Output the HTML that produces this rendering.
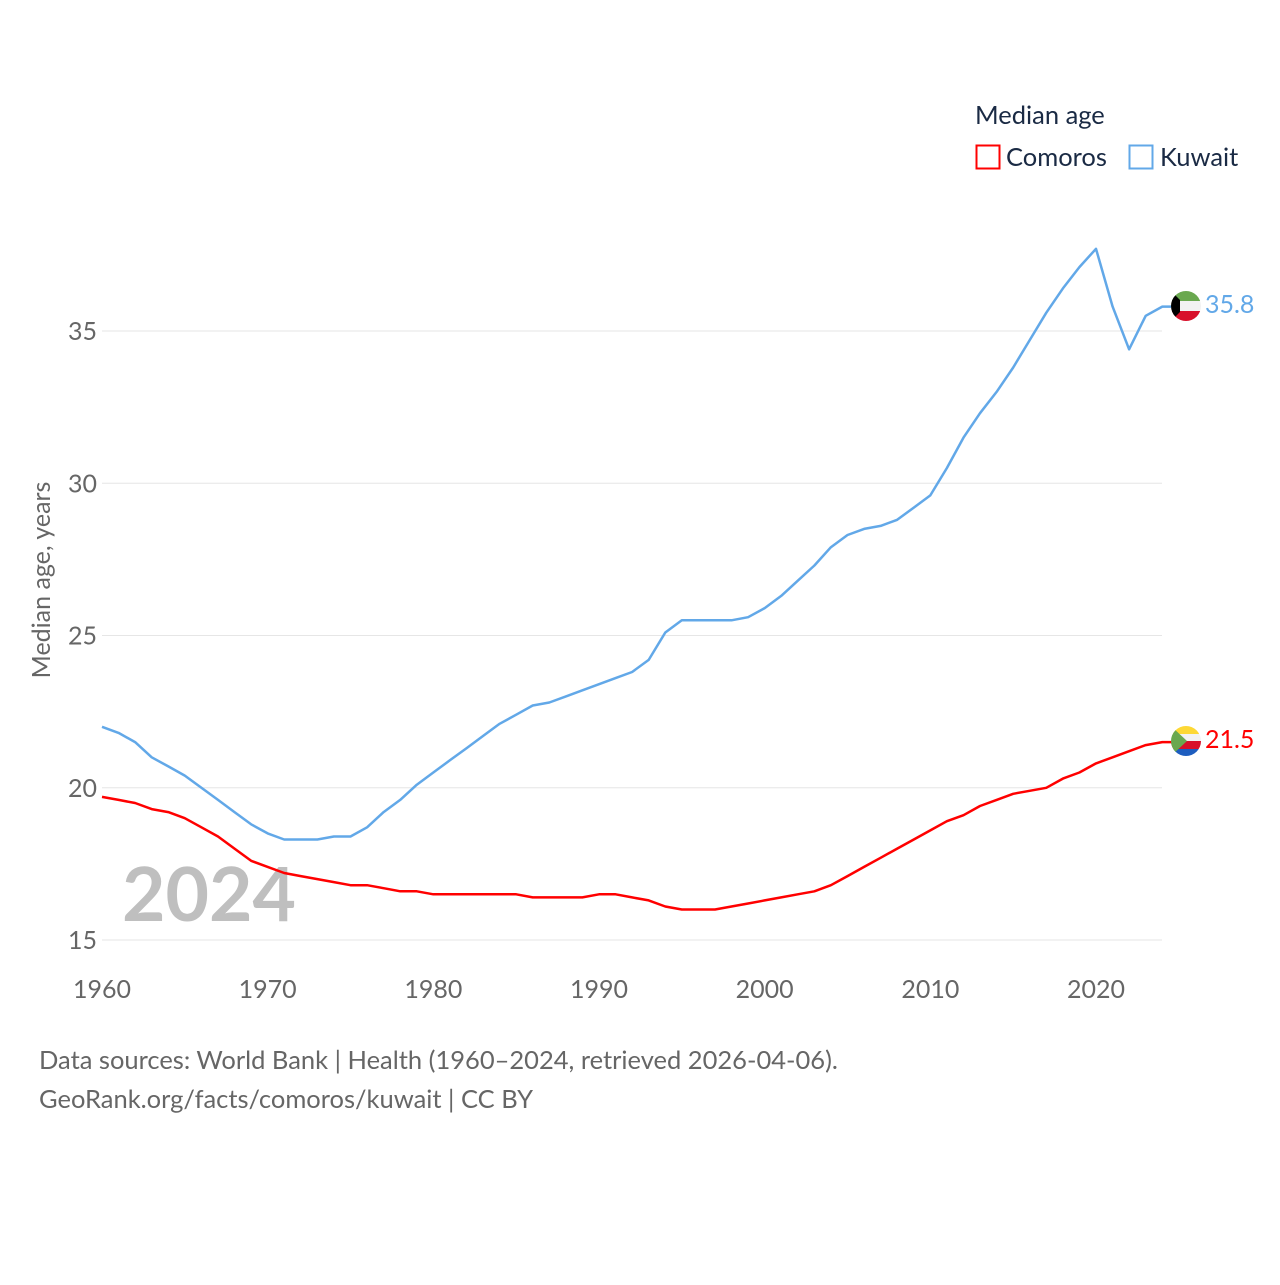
<!DOCTYPE html>
<html><head><meta charset="utf-8"><style>
body{margin:0;background:#fff;font-family:"Liberation Sans",sans-serif}
svg text{font-family:"Lato","Liberation Sans",sans-serif}
</style></head><body>
<svg id="chart" width="1280" height="1280" viewBox="0 0 1280 1280" xmlns="http://www.w3.org/2000/svg">
<rect width="1280" height="1280" fill="#fff"/>
<g id="grid"></g>
<g id="yticks"></g>
<g id="xticks"></g>
<text x="122" y="921" font-size="75" font-weight="bold" fill="#bfbfbf">2024</text>
<g id="lines"></g>
<text transform="translate(50,580) rotate(-90)" text-anchor="middle" font-size="25" fill="#666">Median age, years</text>
<text x="975" y="124" font-size="25.5" fill="#1a2a44">Median age</text>
<g><rect x="976.5" y="145.5" width="23" height="23" fill="none" stroke="#ff0000" stroke-width="2"/><text x="1006" y="166" font-size="25.5" fill="#1a2a44">Comoros</text></g>
<g><rect x="1129.5" y="145.5" width="23" height="23" fill="none" stroke="#62a8e8" stroke-width="2"/><text x="1160" y="166" font-size="25.5" fill="#1a2a44">Kuwait</text></g>
<text x="39" y="1069" font-size="25.5" fill="#666">Data sources: World Bank | Health (1960–2024, retrieved 2026-04-06).</text>
<text x="39" y="1108" font-size="25.5" fill="#666">GeoRank.org/facts/comoros/kuwait | CC BY</text>
<defs><clipPath id="ck"><circle cx="1186" cy="306" r="15"/></clipPath><clipPath id="cc"><circle cx="1186" cy="741" r="15"/></clipPath></defs>
<g clip-path="url(#ck)">
<rect x="1171" y="291" width="30" height="10" fill="#6aa84f"/><rect x="1171" y="301" width="30" height="10" fill="#f2f2f2"/><rect x="1171" y="311" width="30" height="10" fill="#d8102a"/><polygon points="1171,291 1180,300 1180,312 1171,321" fill="#000"/></g>
<g clip-path="url(#cc)">
<rect x="1171" y="726" width="30" height="8" fill="#fdd835"/><rect x="1171" y="734" width="30" height="7" fill="#f2f2f2"/><rect x="1171" y="741" width="30" height="8" fill="#d8102a"/><rect x="1171" y="749" width="30" height="8" fill="#1d5dbf"/><polygon points="1171,726 1187,741 1171,756" fill="#6aa84f"/></g>
<text x="1205" y="313" font-size="25" fill="#62a8e8">35.8</text>
<text x="1205" y="748" font-size="25" fill="#ff0000">21.5</text>
</svg>
<script>
const years=[];for(let y=1960;y<=2024;y++)years.push(y);
const yTickValues=[15,20,25,30,35];
const xTickValues=[1960,1970,1980,1990,2000,2010,2020];
const kuwait=[22.0,21.8,21.5,21.0,20.7,20.4,20.0,19.6,19.2,18.8,18.5,18.3,18.3,18.3,18.4,18.4,18.7,19.2,19.6,20.1,20.5,20.9,21.3,21.7,22.1,22.4,22.7,22.8,23.0,23.2,23.4,23.6,23.8,24.2,25.1,25.5,25.5,25.5,25.5,25.6,25.9,26.3,26.8,27.3,27.9,28.3,28.5,28.6,28.8,29.2,29.6,30.5,31.5,32.3,33.0,33.8,34.7,35.6,36.4,37.1,37.7,35.8,34.4,35.5,35.8];
const comoros=[19.7,19.6,19.5,19.3,19.2,19.0,18.7,18.4,18.0,17.6,17.4,17.2,17.1,17.0,16.9,16.8,16.8,16.7,16.6,16.6,16.5,16.5,16.5,16.5,16.5,16.5,16.4,16.4,16.4,16.4,16.5,16.5,16.4,16.3,16.1,16.0,16.0,16.0,16.1,16.2,16.3,16.4,16.5,16.6,16.8,17.1,17.4,17.7,18.0,18.3,18.6,18.9,19.1,19.4,19.6,19.8,19.9,20.0,20.3,20.5,20.8,21.0,21.2,21.4,21.5];
const NS="http://www.w3.org/2000/svg";
const xs=y=>102+(y-1960)*(994/60);
const ys=v=>331+(35-v)*30.45;
const grid=document.getElementById('grid'),yt=document.getElementById('yticks'),xt=document.getElementById('xticks'),lines=document.getElementById('lines');
yTickValues.forEach(v=>{
 const l=document.createElementNS(NS,'line');
 
 
 l.setAttribute('x1',102);l.setAttribute('x2',1162);l.setAttribute('y1',ys(v));l.setAttribute('y2',ys(v));l.setAttribute('stroke','#e6e6e6');l.setAttribute('stroke-width','1');
 grid.appendChild(l);
 const t=document.createElementNS(NS,'text');
 
 
 t.setAttribute('x',97);t.setAttribute('y',ys(v)+9);t.setAttribute('text-anchor','end');t.setAttribute('font-size','25');t.setAttribute('fill','#666');t.textContent=v;
 yt.appendChild(t);
});
xTickValues.forEach(v=>{
 const t=document.createElementNS(NS,'text');
 
 
 t.setAttribute('x',xs(v));t.setAttribute('y',998);t.setAttribute('text-anchor','middle');t.setAttribute('font-size','25');t.setAttribute('fill','#666');t.textContent=v;
 xt.appendChild(t);
});
function line(data,color,name){
 const p=document.createElementNS(NS,'polyline');
 
 
 p.setAttribute('points',data.map((v,i)=>xs(years[i]).toFixed(1)+','+ys(v).toFixed(1)).join(' ')+' '+(xs(2024)+9)+','+ys(data[data.length-1]).toFixed(1));
 p.setAttribute('fill','none');p.setAttribute('stroke',color);p.setAttribute('stroke-width','2.5');p.setAttribute('stroke-linejoin','round');
 lines.appendChild(p);
}
line(kuwait,'#62a8e8','kuwait-line');
line(comoros,'#ff0000','comoros-line');
</script>
</body></html>
